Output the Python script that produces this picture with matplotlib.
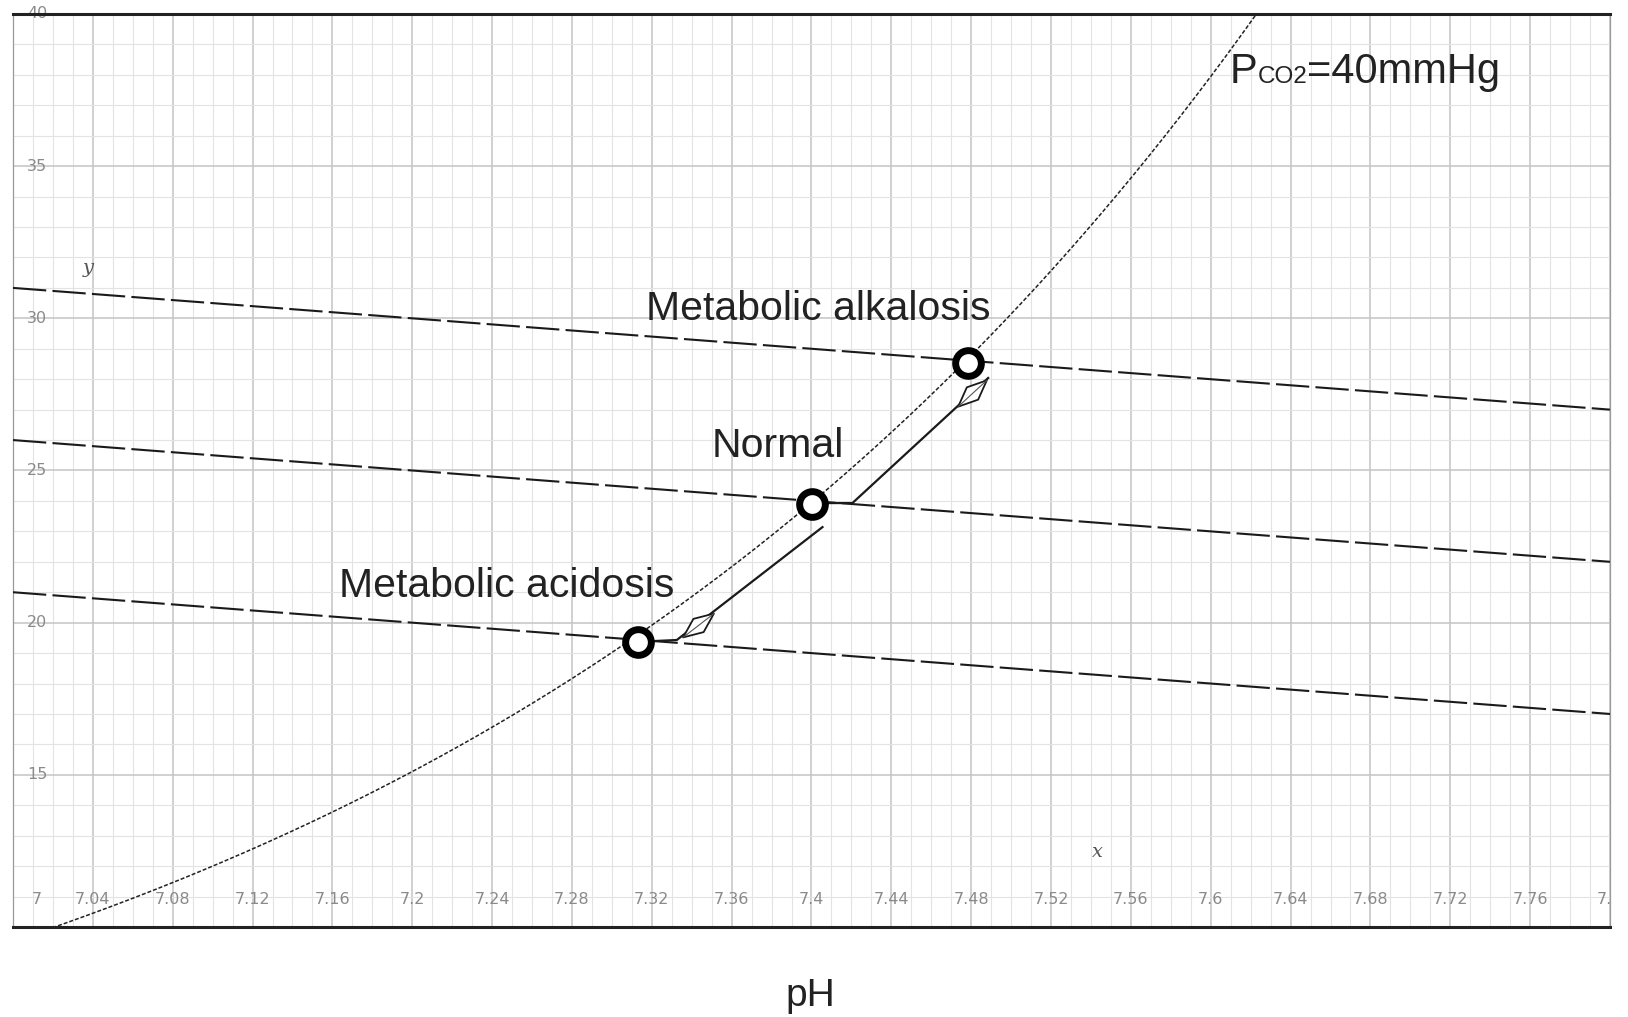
import numpy as np
import matplotlib
matplotlib.use("Agg")
import matplotlib.pyplot as plt
from matplotlib.markers import MarkerStyle
from matplotlib.path import Path
from matplotlib.transforms import Affine2D, offset_copy, blended_transform_factory

# ---- data -------------------------------------------------------------
ph_ticks = [7.00, 7.04, 7.08, 7.12, 7.16, 7.20, 7.24, 7.28, 7.32, 7.36, 7.40,
            7.44, 7.48, 7.52, 7.56, 7.60, 7.64, 7.68, 7.72, 7.76, 7.80]
hco3_ticks = [15, 20, 25, 30, 35, 40]

# CO2 isobar (Henderson-Hasselbalch)
pco2_mmhg = 40
pk_a = 6.1
co2_solubility = 0.03

# buffer lines: HCO3- at pH 7.0 and 7.8
buffer_ph = [7.0, 7.8]
buffer_alkalosis = [31, 27]
buffer_normal = [26, 22]
buffer_acidosis = [21, 17]

# states
state_names = ["Metabolic acidosis", "Normal", "Metabolic alkalosis"]
state_ph = [7.313, 7.400, 7.4785]
state_hco3 = [19.35, 23.9, 28.53]

# shift paths
arrow_up_ph = [7.400, 7.4205, 7.4885]
arrow_up_hco3 = [23.93, 23.93, 28.04]
arrow_down_ph = [7.4055, 7.3325, 7.3125]
arrow_down_hco3 = [23.14, 19.43, 19.37]
head_up = (7.4805, 27.55)
head_down = (7.3432, 19.92)

# ---- figure -----------------------------------------------------------
W, H = 1628, 1017
fig = plt.figure(figsize=(W / 100, H / 100), dpi=100)
ax = fig.add_axes([13 / W, 1 - 927 / H, 1597 / W, 913 / H])
ax.set_xlim(7.0, 7.8)
ax.set_ylim(10, 40)

# grid
minor_col, major_col = "#e3e3e3", "#c4c4c4"
for v in np.arange(7.0, 7.8001, 0.01):
    is_major = abs((v - 7.0) / 0.04 - round((v - 7.0) / 0.04)) < 1e-6
    ax.axvline(v, color=major_col if is_major else minor_col,
               lw=1.1 if is_major else 0.8, zorder=0)
for v in range(10, 41):
    is_major = v % 5 == 0
    ax.axhline(v, color=major_col if is_major else minor_col,
               lw=1.1 if is_major else 0.8, zorder=0)

ax.set_xticks([])
ax.set_yticks([])
for s in ("top", "bottom"):
    ax.spines[s].set_linewidth(2.2)
    ax.spines[s].set_color("#222222")
for s in ("left", "right"):
    ax.spines[s].set_linewidth(0.9)
    ax.spines[s].set_color("#9a9a9a")

# tick labels drawn inside the plot area
tick_kw = dict(fontsize=11.5, color="#8a8a8a", family="DejaVu Sans",
               zorder=1)
xtrans = blended_transform_factory(ax.transData, ax.transAxes)
for v in ph_ticks:
    label = f"{v:g}"
    tr = xtrans
    if v == ph_ticks[0]:
        tr = offset_copy(xtrans, fig=fig, x=24, y=0, units="dots")
    ax.text(v, 0.0296, label, transform=tr, ha="center", va="center",
            clip_on=True, **tick_kw)
ytrans = blended_transform_factory(ax.transAxes, ax.transData)
for v in hco3_ticks:
    ax.text(0.015, v, f"{v}", transform=ytrans, ha="center", va="center",
            **tick_kw)

ax.text(7.543, 12.46, "x", fontsize=14, style="italic", family="DejaVu Serif",
        color="#555555", ha="center", va="center")
ax.text(7.0376, 31.65, "y", fontsize=14, style="italic", family="DejaVu Serif",
        color="#555555", ha="center", va="center")

# isobar
ph = np.linspace(7.0, 7.8, 600)
hco3 = co2_solubility * pco2_mmhg * 10 ** (ph - pk_a)
ax.plot(ph, hco3, color="#222222", lw=1.1, ls=(0, (2.6, 1.3)), zorder=3)

# buffer lines
for vals in (buffer_alkalosis, buffer_normal, buffer_acidosis):
    ax.plot(buffer_ph, vals, color="#1a1a1a", lw=1.5, ls=(0, (16, 3)), zorder=3)

# shift paths
ax.plot(arrow_up_ph, arrow_up_hco3, color="#1a1a1a", lw=1.6, zorder=4,
        solid_joinstyle="miter")
ax.plot(arrow_down_ph, arrow_down_hco3, color="#1a1a1a", lw=1.6, zorder=4,
        solid_joinstyle="miter")

lens = Path([(-1, 0), (0, 0.43), (1, 0), (0, -0.43), (-1, 0)],
            [Path.MOVETO, Path.LINETO, Path.LINETO, Path.LINETO, Path.CLOSEPOLY])


def seg_angle(xs, ys):
    p = ax.transData.transform(np.column_stack([xs, ys]))
    return np.degrees(np.arctan2(p[1, 1] - p[0, 1], p[1, 0] - p[0, 0]))


ang_up = seg_angle(arrow_up_ph[1:], arrow_up_hco3[1:])
ang_dn = seg_angle(arrow_down_ph[:2], arrow_down_hco3[:2])
for (hx, hy), ang in ((head_up, ang_up), (head_down, ang_dn)):
    m = MarkerStyle(lens, transform=Affine2D().rotate_deg(ang))
    ax.plot([hx], [hy], marker=m, markersize=28, markerfacecolor="white",
            markeredgecolor="#1a1a1a", markeredgewidth=1.3, ls="none",
            zorder=5)
    ax.plot([hx], [hy], marker=MarkerStyle(Path([(-0.8, 0), (0.8, 0)]),
                                            transform=Affine2D().rotate_deg(ang)),
            markersize=28, markeredgecolor="#555555", markeredgewidth=0.8,
            ls="none", zorder=6)

# state markers
ax.plot(state_ph, state_hco3, ls="none", marker="o", markersize=18.5,
        markerfacecolor="white", markeredgecolor="black",
        markeredgewidth=5, zorder=7)

# labels
lab_kw = dict(fontsize=29.5, family="Liberation Sans", color="#222222",
              ha="center", va="baseline", zorder=8)
ax.text(7.4035, 29.94, state_names[2], **lab_kw)
ax.text(7.383, 25.44, state_names[1], **lab_kw)
ax.text(7.2475, 20.84, state_names[0], **lab_kw)

# isobar label, built from pieces so the CO2 part sits on the baseline
fig.canvas.draw()
renderer = fig.canvas.get_renderer()
pieces = [("P", 30), ("CO2", 17.5), (f"={pco2_mmhg}mmHg", 30)]
xoff = 0.0
for txt, size in pieces:
    t = ax.text(7.6095, 37.73, txt, fontsize=size, family="Liberation Sans",
                color="#222222", ha="left", va="baseline", zorder=8,
                transform=offset_copy(ax.transData, fig=fig, x=xoff, y=0,
                                      units="dots"))
    xoff += t.get_window_extent(renderer).width

fig.text(810 / W, 1 - 1006 / H, "pH", fontsize=28, family="Liberation Sans",
         color="#222222", ha="center", va="baseline")

fig.savefig("out.png", dpi=100, facecolor="white")
